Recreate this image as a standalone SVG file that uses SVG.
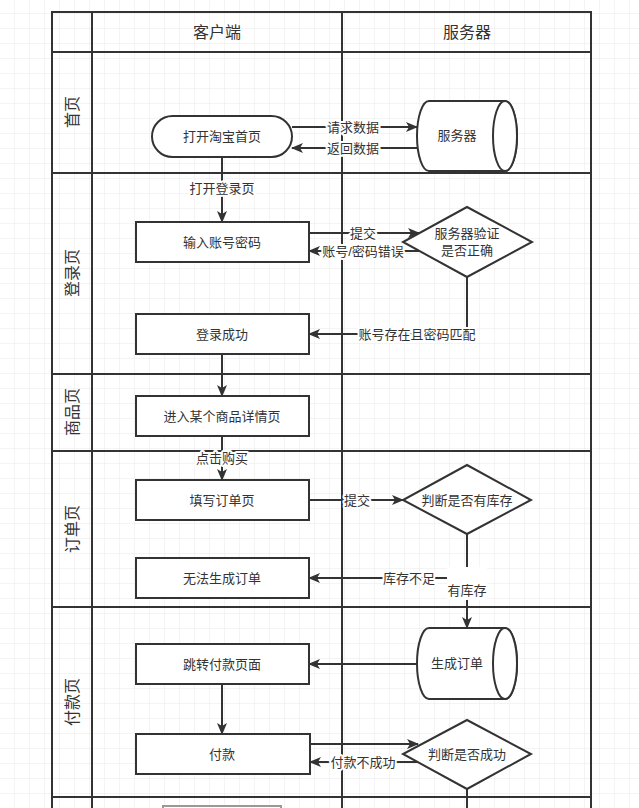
<svg xmlns="http://www.w3.org/2000/svg" width="639" height="808" viewBox="0 0 639 808">
<defs>
<pattern id="grid" width="15" height="15" patternUnits="userSpaceOnUse" x="0" y="-1">
<path d="M15,0 V15 M0,15 H15" fill="none" stroke="#e9e9e9" stroke-width="1"/>
</pattern>
<marker id="arr" viewBox="0 0 12 10" refX="11" refY="5" markerWidth="12" markerHeight="10" markerUnits="userSpaceOnUse" orient="auto">
<path d="M0,0 L12,5 L0,10 L3,5 Z" fill="#333"/>
</marker>
</defs>
<style>
.lane{fill:none;stroke:#333;stroke-width:2}
.node{fill:#fff;stroke:#333;stroke-width:2}
.edge{fill:none;stroke:#333;stroke-width:2;marker-end:url(#arr)}
.line{fill:none;stroke:#333;stroke-width:2}
text{font-family:"Liberation Sans","Noto Sans CJK SC",sans-serif;fill:#333;text-anchor:middle;dominant-baseline:central}
.t{font-size:13px}
.h{font-size:16px}
.lbl{font-size:13px;paint-order:stroke;stroke:#fff;stroke-width:4px;stroke-linejoin:round}
</style>
<rect width="639" height="808" fill="#fff"/>
<rect width="639" height="808" fill="url(#grid)"/>

<g id="swimlanes">
<path class="lane" d="M52,808 V12 H591 V808"/>
<path class="lane" d="M52,52 H591 M92,12 V808 M342,12 V808 M52,173 H591 M52,374 H591 M52,451 H591 M52,607 H591 M52,797 H591"/>
<text class="h" x="217" y="32">客户端</text>
<text class="h" x="467" y="32">服务器</text>
<text class="h" transform="rotate(-90 72 112)" x="72" y="112">首页</text>
<text class="h" transform="rotate(-90 72 273)" x="72" y="273">登录页</text>
<text class="h" transform="rotate(-90 72 412)" x="72" y="412">商品页</text>
<text class="h" transform="rotate(-90 72 529)" x="72" y="529">订单页</text>
<text class="h" transform="rotate(-90 72 702)" x="72" y="702">付款页</text>
</g>

<g id="connectors">
<path class="edge" d="M292,127 H417"/>
<path class="edge" d="M417,148 H292"/>
<path class="edge" d="M222,157 V222"/>
<path class="edge" d="M309,233 H419"/>
<path class="edge" d="M419,251 H309"/>
<path class="edge" d="M467,277 V334 H309"/>
<path class="edge" d="M222,354 V396"/>
<path class="edge" d="M222,436 V480"/>
<path class="edge" d="M309,500 H403"/>
<path class="edge" d="M467,534 V578 H309"/>
<path class="edge" d="M467,534 V628"/>
<path class="edge" d="M417,664 H309"/>
<path class="edge" d="M222,684 V734"/>
<path class="edge" d="M310,744 H418"/>
<path class="edge" d="M421,762 H310"/>
<path class="line" d="M467,789 V808"/>
<text class="lbl" x="353" y="127">请求数据</text>
<text class="lbl" x="353" y="148">返回数据</text>
<text class="lbl" x="222" y="188">打开登录页</text>
<text class="lbl" x="363" y="233">提交</text>
<text class="lbl" x="363" y="251">账号/密码错误</text>
<text class="lbl" x="417" y="334">账号存在且密码匹配</text>
<text class="lbl" x="222" y="458">点击购买</text>
<text class="lbl" x="357" y="500">提交</text>
<text class="lbl" x="409" y="578">库存不足</text>
<rect x="447" y="567" width="40" height="33" fill="#fff"/>
<text class="t" x="467" y="590">有库存</text>
<text class="lbl" x="363" y="762">付款不成功</text>
</g>

<g id="n-open-home">
<rect class="node" x="152" y="116" width="140" height="41" rx="20.5" ry="20.5"/>
<text class="t" x="222" y="136">打开淘宝首页</text>
</g>
<g id="n-server">
<path class="node" d="M429,101 H505 A12,35 0 0 1 505,171 H429 A12,35 0 0 1 429,101 Z"/>
<ellipse class="node" cx="505" cy="136" rx="12" ry="35"/>
<text class="t" x="457" y="135">服务器</text>
</g>
<g id="n-input">
<rect class="node" x="136" y="222" width="173" height="40"/>
<text class="t" x="222" y="242">输入账号密码</text>
</g>
<g id="n-verify">
<polygon class="node" points="467,207 532,242 467,277 403,242"/>
<text class="t" x="467" y="233">服务器验证</text>
<text class="t" x="467" y="250">是否正确</text>
</g>
<g id="n-login-ok">
<rect class="node" x="136" y="314" width="173" height="40"/>
<text class="t" x="222" y="334">登录成功</text>
</g>
<g id="n-detail">
<rect class="node" x="136" y="396" width="173" height="40"/>
<text class="t" x="222" y="416">进入某个商品详情页</text>
</g>
<g id="n-fill-order">
<rect class="node" x="136" y="480" width="173" height="40"/>
<text class="t" x="222" y="500">填写订单页</text>
</g>
<g id="n-stock">
<polygon class="node" points="467,465 531,500 467,534 403,500"/>
<text class="t" x="467" y="500">判断是否有库存</text>
</g>
<g id="n-no-order">
<rect class="node" x="136" y="558" width="173" height="40"/>
<text class="t" x="222" y="578">无法生成订单</text>
</g>
<g id="n-gen-order">
<path class="node" d="M429,628 H505 A12,35.5 0 0 1 505,699 H429 A12,35.5 0 0 1 429,628 Z"/>
<ellipse class="node" cx="505" cy="663.5" rx="12" ry="35.5"/>
<text class="t" x="457" y="663">生成订单</text>
</g>
<g id="n-to-pay">
<rect class="node" x="136" y="644" width="173" height="40"/>
<text class="t" x="222" y="664">跳转付款页面</text>
</g>
<g id="n-pay">
<rect class="node" x="136" y="734" width="174" height="40"/>
<text class="t" x="222" y="754">付款</text>
</g>
<g id="n-pay-ok">
<polygon class="node" points="467,720 531,754 467,789 403,754"/>
<text class="t" x="467" y="754">判断是否成功</text>
</g>
<g id="n-next">
<rect x="163" y="806" width="118" height="40" fill="#fff" stroke="#999" stroke-width="2"/>
</g>
</svg>
